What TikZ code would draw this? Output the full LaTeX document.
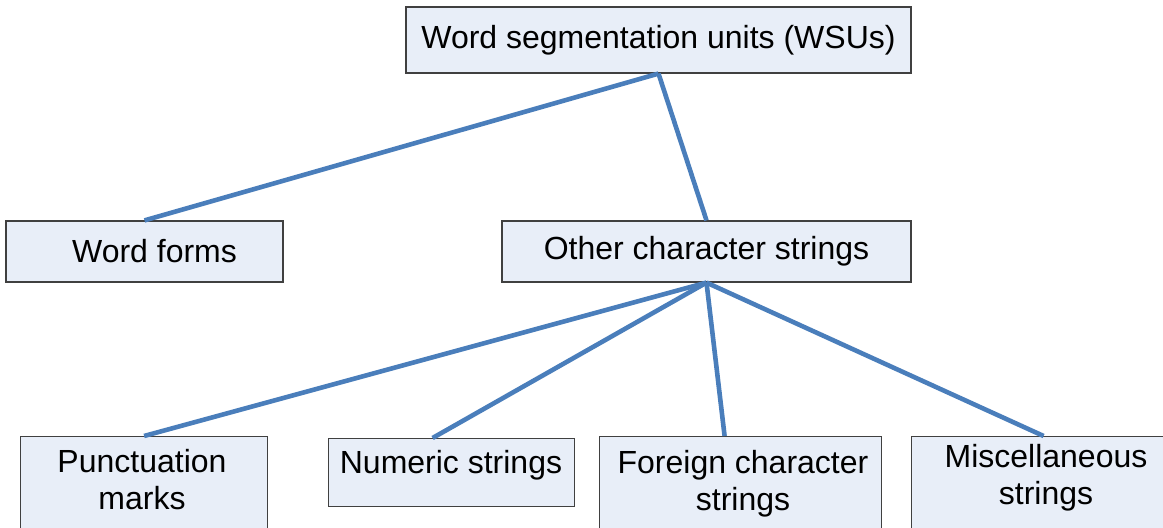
\documentclass[tikz,border=0pt]{standalone}
\usepackage{fontspec}
\setmainfont{Liberation Sans}
\usetikzlibrary{positioning}
\definecolor{boxfill}{HTML}{E8EEF8}
\definecolor{linkblue}{HTML}{4A7EBB}
\tikzset{
  unit/.style={draw=black!75, fill=boxfill, line width=0.6pt, inner sep=0pt, font=\fontsize{16}{18.5}\selectfont},
  caption/.style={align=center, inner sep=0pt, font=\fontsize{16}{18.5}\selectfont},
  link/.style={linkblue, line width=2.3pt}
}

\begin{document}
\begin{tikzpicture}[x=0.5pt, y=-0.5pt]
    \useasboundingbox (0,0) rectangle (1163,528);
    \clip (0,0) rectangle (1163,528);

%top
    \node[unit, minimum width=252.5pt, minimum height=33pt] (wsu) at (658.5,40) {Word segmentation units (WSUs)};

%middle row
    \node[unit, minimum width=138.5pt, minimum height=30.5pt] (wf) at (144.5,251.5) {\hspace*{10pt}Word forms};
    \node[unit, minimum width=204.5pt, minimum height=30.5pt] (other) at (706.5,251.5) {Other character strings};

%bottom row
    \node[unit, anchor=north west, minimum width=123.5pt, minimum height=60pt] (punct) at (20,436) {};
    \node[caption] (punctlbl) at (142,480) {Punctuation\\marks};
    \node[unit, anchor=north west, minimum width=123pt, minimum height=34pt] (num) at (328,438) {};
    \node[caption] (numlbl) at (451,465) {Numeric strings};
    \node[unit, anchor=north west, minimum width=141pt, minimum height=60pt] (foreign) at (599,436) {};
    \node[caption] (foreignlbl) at (743,484) {Foreign character\\strings};
    \node[unit, anchor=north west, minimum width=135pt, minimum height=60pt] (misc) at (911,436) {};
    \node[caption] (misclbl) at (1046,478) {Miscellaneous\\strings};

%links
    \draw[link] (wsu.south) -- (wf.north);
    \draw[link] (wsu.south) -- (other.north);
    \draw[link] (other.south) -- (punct.north);
    \draw[link] (other.south) -- ([xshift=-9.5pt]num.north);
    \draw[link] (other.south) -- ([xshift=-8pt]foreign.north);
    \draw[link] (other.south) -- ([xshift=-1.5pt]misc.north);

\end{tikzpicture}
\end{document}
